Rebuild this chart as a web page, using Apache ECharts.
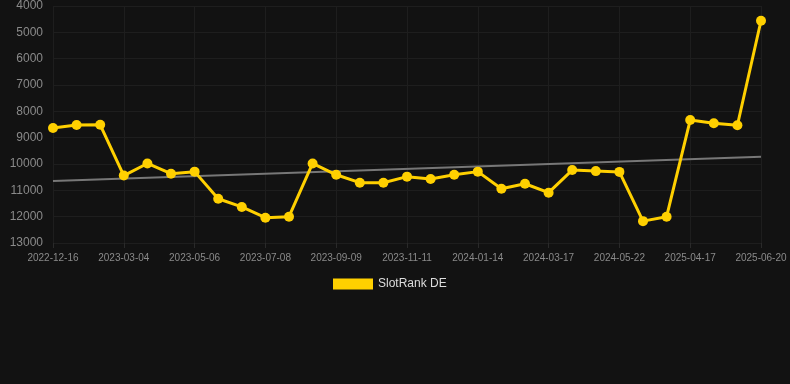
<!DOCTYPE html>
<html lang="en">
<head>
    <meta charset="UTF-8">
    <title>SlotRank DE</title>
    <style>
        html, body {
            margin: 0;
            padding: 0;
            background-color: #121212;
        }
        #chart {
            width: 790px;
            height: 384px;
        }
    </style>
    <script src="https://cdn.jsdelivr.net/npm/echarts@6/dist/echarts.min.js"></script>
</head>
<body>
<div id="chart"></div>
<script>
    // Dates (every 3rd one is shown as a label)
    var dates = [
        '2022-12-16', '2023-01-11', '2023-02-06', '2023-03-04', '2023-03-25', '2023-04-15',
        '2023-05-06', '2023-05-27', '2023-06-17', '2023-07-08', '2023-07-29', '2023-08-19',
        '2023-09-09', '2023-09-30', '2023-10-21', '2023-11-11', '2023-12-02', '2023-12-23',
        '2024-01-14', '2024-02-04', '2024-02-25', '2024-03-17', '2024-04-08', '2024-04-30',
        '2024-05-22', '2024-09-10', '2025-01-02', '2025-04-17', '2025-05-08', '2025-05-29',
        '2025-06-20'
    ];

    // Rank values
    var rankDE = [
        8630, 8520, 8510, 10440, 9980, 10370,
        10290, 11320, 11630, 12040, 12000, 9980,
        10410, 10710, 10710, 10480, 10570, 10410,
        10290, 10940, 10750, 11090, 10230, 10270,
        10300, 12170, 12000, 8330, 8450, 8530,
        4560
    ];

    // Trend line end points
    var trendStart = 10650;
    var trendEnd = 9720;

    var chart = echarts.init(document.getElementById('chart'));

    var option = {
        backgroundColor: '#121212',
        animation: false,
        grid: { left: 53, right: 29, top: 6, bottom: 141 },
        legend: {
            data: ['SlotRank DE'],
            top: 273,
            left: 328,
            icon: 'rect',
            itemWidth: 40,
            itemHeight: 11,
            itemGap: 6,
            textStyle: { color: '#dddddd', fontSize: 12, fontFamily: 'Arial, Liberation Sans, sans-serif' }
        },
        xAxis: {
            type: 'category',
            data: dates,
            boundaryGap: false,
            axisLine: { show: false },
            axisTick: { show: true, interval: 2, lineStyle: { color: '#2a2a2a' } },
            axisLabel: {
                interval: 2,
                color: '#8a8a8a',
                fontSize: 10,
                margin: 10,
                fontFamily: 'Arial, Liberation Sans, sans-serif'
            },
            splitLine: { show: true, interval: 2, lineStyle: { color: '#1e1e1e' } }
        },
        yAxis: {
            type: 'value',
            inverse: true,
            min: 4000,
            max: 13000,
            interval: 1000,
            axisLine: { show: false },
            axisTick: { show: false },
            axisLabel: {
                color: '#8a8a8a',
                fontSize: 12,
                margin: 10,
                formatter: function (v) { return String(v); },
                fontFamily: 'Arial, Liberation Sans, sans-serif'
            },
            splitLine: { lineStyle: { color: '#1e1e1e' } }
        },
        series: [
            {
                name: 'Trend',
                type: 'line',
                data: [[dates[0], trendStart], [dates[dates.length - 1], trendEnd]],
                symbol: 'none',
                lineStyle: { color: '#777777', width: 2 },
                z: 1
            },
            {
                name: 'SlotRank DE',
                type: 'line',
                data: rankDE,
                symbol: 'circle',
                symbolSize: 10,
                itemStyle: { color: '#FFD000' },
                lineStyle: { color: '#FFD000', width: 3 },
                z: 2
            }
        ]
    };
    chart.setOption(option);
</script>
</body>
</html>
